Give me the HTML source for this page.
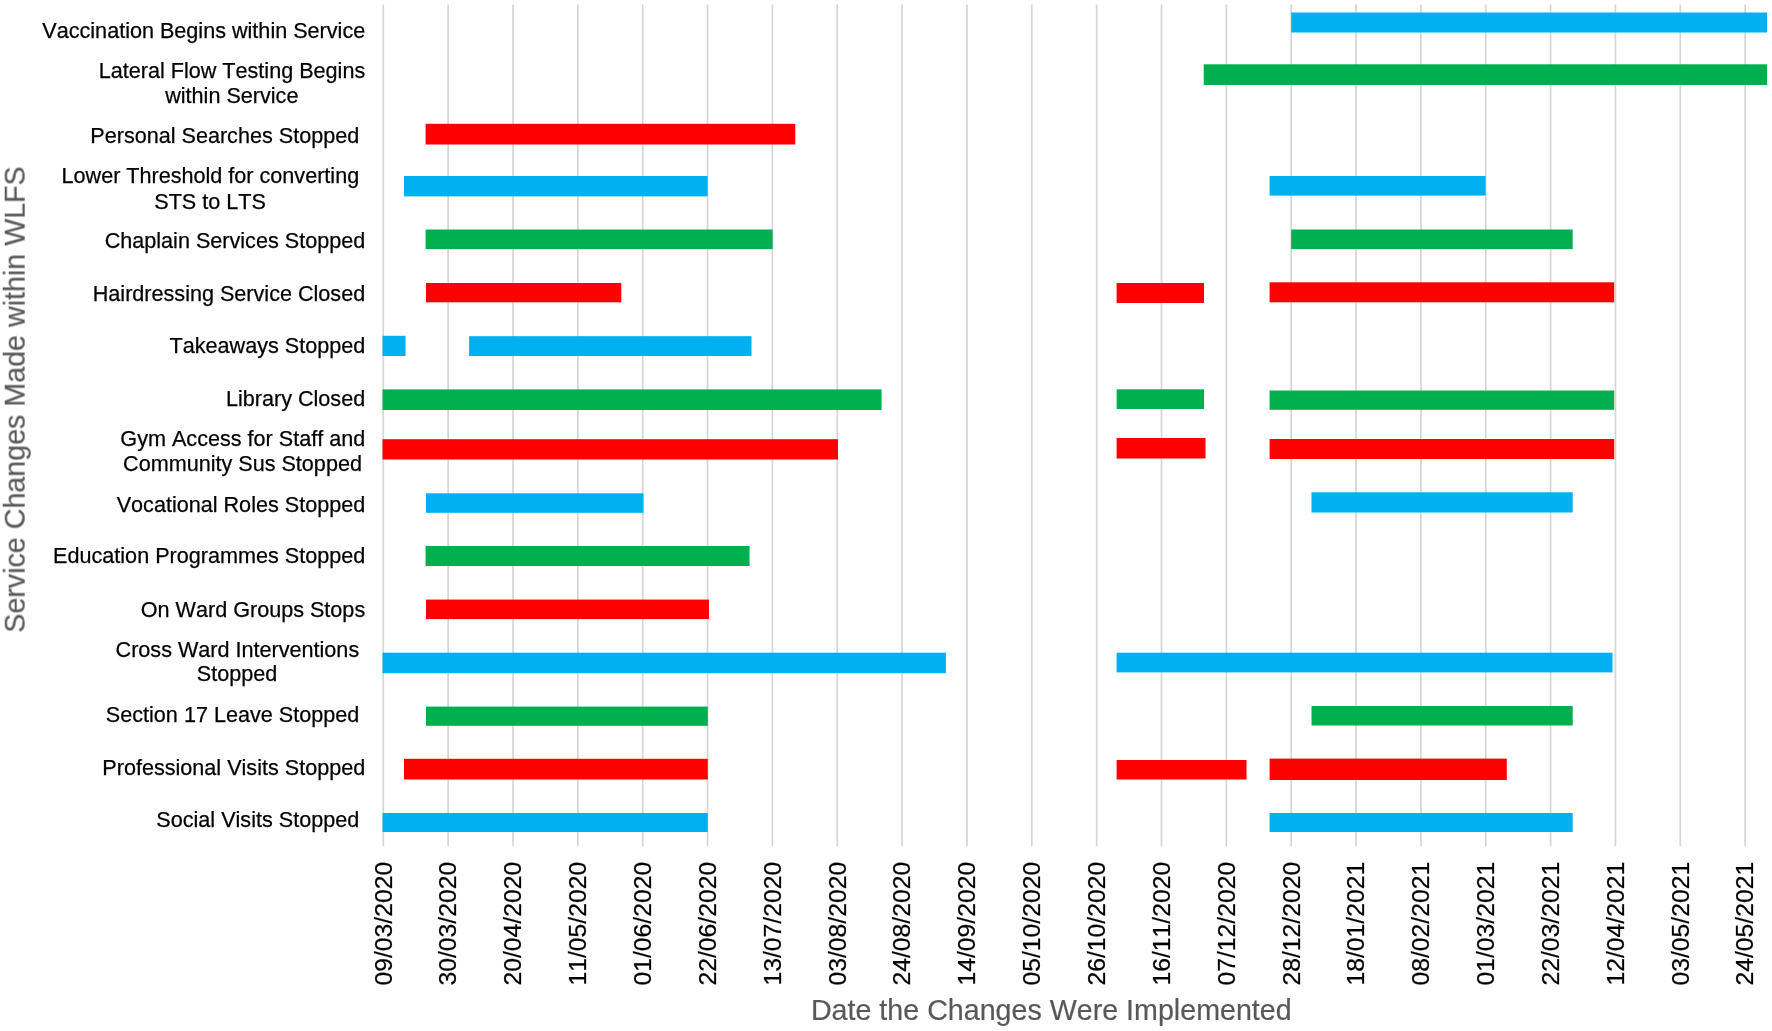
<!DOCTYPE html>
<html lang="en">
<head>
<meta charset="utf-8">
<title>Service Changes Made within WLFS</title>
<style>
html,body{margin:0;padding:0;background:#fff;}
body{width:1772px;height:1031px;overflow:hidden;}
svg{display:block;}
text{font-family:"Liberation Sans",Arial,sans-serif;font-kerning:none;}
.yl{font-size:21.6px;fill:#000;stroke:#000;stroke-width:0.25px;}
.xl{font-size:24.75px;fill:#000;stroke:#000;stroke-width:0.25px;}
.ti{font-size:28.65px;fill:#595959;stroke:#595959;stroke-width:0.2px;}
</style>
</head>
<body>
<svg width="1772" height="1031" viewBox="0 0 1772 1031">
<defs><filter id="soft" x="0" y="0" width="1772" height="1031" filterUnits="userSpaceOnUse"><feGaussianBlur stdDeviation="0.55"/></filter></defs>
<rect width="1772" height="1031" fill="#ffffff"/>
<g filter="url(#soft)">
<g stroke="#d5d5d5" stroke-width="1.7" fill="none">
<line x1="383.30" y1="4.6" x2="383.30" y2="846.3"/>
<line x1="448.15" y1="4.6" x2="448.15" y2="846.3"/>
<line x1="513.00" y1="4.6" x2="513.00" y2="846.3"/>
<line x1="577.85" y1="4.6" x2="577.85" y2="846.3"/>
<line x1="642.70" y1="4.6" x2="642.70" y2="846.3"/>
<line x1="707.55" y1="4.6" x2="707.55" y2="846.3"/>
<line x1="772.40" y1="4.6" x2="772.40" y2="846.3"/>
<line x1="837.25" y1="4.6" x2="837.25" y2="846.3"/>
<line x1="902.10" y1="4.6" x2="902.10" y2="846.3"/>
<line x1="966.95" y1="4.6" x2="966.95" y2="846.3"/>
<line x1="1031.80" y1="4.6" x2="1031.80" y2="846.3"/>
<line x1="1096.65" y1="4.6" x2="1096.65" y2="846.3"/>
<line x1="1161.50" y1="4.6" x2="1161.50" y2="846.3"/>
<line x1="1226.35" y1="4.6" x2="1226.35" y2="846.3"/>
<line x1="1291.20" y1="4.6" x2="1291.20" y2="846.3"/>
<line x1="1356.05" y1="4.6" x2="1356.05" y2="846.3"/>
<line x1="1420.90" y1="4.6" x2="1420.90" y2="846.3"/>
<line x1="1485.75" y1="4.6" x2="1485.75" y2="846.3"/>
<line x1="1550.60" y1="4.6" x2="1550.60" y2="846.3"/>
<line x1="1615.45" y1="4.6" x2="1615.45" y2="846.3"/>
<line x1="1680.30" y1="4.6" x2="1680.30" y2="846.3"/>
<line x1="1745.15" y1="4.6" x2="1745.15" y2="846.3"/>
</g>
<g>
<rect x="1291.2" y="12.5" width="475.9" height="20.0" fill="#00B0F0"/>
<rect x="1203.7" y="64.3" width="563.4" height="20.7" fill="#00B050"/>
<rect x="425.6" y="123.8" width="369.7" height="20.7" fill="#FF0000"/>
<rect x="404.0" y="176.0" width="303.6" height="20.4" fill="#00B0F0"/>
<rect x="1269.6" y="176.0" width="216.0" height="19.6" fill="#00B0F0"/>
<rect x="425.6" y="229.5" width="347.0" height="19.6" fill="#00B050"/>
<rect x="1291.2" y="229.5" width="281.5" height="19.6" fill="#00B050"/>
<rect x="426.0" y="283.0" width="195.3" height="19.3" fill="#FF0000"/>
<rect x="1116.6" y="283.0" width="87.4" height="20.0" fill="#FF0000"/>
<rect x="1269.6" y="282.3" width="344.6" height="20.0" fill="#FF0000"/>
<rect x="382.5" y="335.8" width="23.0" height="20.2" fill="#00B0F0"/>
<rect x="469.1" y="336.2" width="282.4" height="19.8" fill="#00B0F0"/>
<rect x="382.5" y="389.4" width="499.1" height="20.6" fill="#00B050"/>
<rect x="1116.6" y="389.3" width="87.4" height="19.7" fill="#00B050"/>
<rect x="1269.6" y="390.5" width="344.6" height="19.3" fill="#00B050"/>
<rect x="382.5" y="439.2" width="455.5" height="20.3" fill="#FF0000"/>
<rect x="1116.6" y="438.0" width="88.9" height="20.5" fill="#FF0000"/>
<rect x="1269.6" y="439.0" width="344.6" height="20.0" fill="#FF0000"/>
<rect x="426.0" y="493.3" width="217.5" height="19.5" fill="#00B0F0"/>
<rect x="1311.5" y="492.3" width="261.2" height="20.2" fill="#00B0F0"/>
<rect x="425.6" y="546.0" width="323.9" height="20.0" fill="#00B050"/>
<rect x="426.0" y="599.6" width="283.0" height="19.5" fill="#FF0000"/>
<rect x="382.5" y="652.7" width="563.4" height="20.5" fill="#00B0F0"/>
<rect x="1116.6" y="652.7" width="495.9" height="19.7" fill="#00B0F0"/>
<rect x="426.0" y="706.6" width="281.8" height="19.2" fill="#00B050"/>
<rect x="1311.5" y="706.0" width="261.2" height="19.5" fill="#00B050"/>
<rect x="404.0" y="758.8" width="303.8" height="20.7" fill="#FF0000"/>
<rect x="1116.6" y="760.0" width="129.9" height="19.5" fill="#FF0000"/>
<rect x="1269.6" y="758.6" width="237.2" height="21.4" fill="#FF0000"/>
<rect x="382.5" y="813.0" width="325.3" height="19.0" fill="#00B0F0"/>
<rect x="1269.6" y="813.0" width="303.1" height="19.0" fill="#00B0F0"/>
</g>
<g class="yl" text-anchor="end">
<text x="365.2" y="38.0">Vaccination Begins within Service</text>
<text x="359.2" y="142.9">Personal Searches Stopped</text>
<text x="365.2" y="247.6">Chaplain Services Stopped</text>
<text x="365.2" y="301.3">Hairdressing Service Closed</text>
<text x="365.2" y="353.3">Takeaways Stopped</text>
<text x="365.2" y="406.3">Library Closed</text>
<text x="365.2" y="511.8">Vocational Roles Stopped</text>
<text x="365.2" y="563.0">Education Programmes Stopped</text>
<text x="365.2" y="616.7">On Ward Groups Stops</text>
<text x="359.2" y="722.1">Section 17 Leave Stopped</text>
<text x="365.2" y="774.7">Professional Visits Stopped</text>
<text x="359.2" y="826.6">Social Visits Stopped</text>
<text x="365.2" y="77.6">Lateral Flow Testing Begins</text>
<text x="231.8" y="102.9" text-anchor="middle">within Service</text>
<text x="359.2" y="182.9">Lower Threshold for converting</text>
<text x="210.1" y="208.6" text-anchor="middle">STS to LTS</text>
<text x="365.2" y="445.9">Gym Access for Staff and</text>
<text x="242.5" y="471.2" text-anchor="middle">Community Sus Stopped</text>
<text x="359.2" y="657.4">Cross Ward Interventions</text>
<text x="237.1" y="681.2" text-anchor="middle">Stopped</text>
</g>
<g class="xl" text-anchor="end">
<text transform="translate(391.60,861.7) rotate(-90)">09/03/2020</text>
<text transform="translate(456.45,861.7) rotate(-90)">30/03/2020</text>
<text transform="translate(521.30,861.7) rotate(-90)">20/04/2020</text>
<text transform="translate(586.15,861.7) rotate(-90)">11/05/2020</text>
<text transform="translate(651.00,861.7) rotate(-90)">01/06/2020</text>
<text transform="translate(715.85,861.7) rotate(-90)">22/06/2020</text>
<text transform="translate(780.70,861.7) rotate(-90)">13/07/2020</text>
<text transform="translate(845.55,861.7) rotate(-90)">03/08/2020</text>
<text transform="translate(910.40,861.7) rotate(-90)">24/08/2020</text>
<text transform="translate(975.25,861.7) rotate(-90)">14/09/2020</text>
<text transform="translate(1040.10,861.7) rotate(-90)">05/10/2020</text>
<text transform="translate(1104.95,861.7) rotate(-90)">26/10/2020</text>
<text transform="translate(1169.80,861.7) rotate(-90)">16/11/2020</text>
<text transform="translate(1234.65,861.7) rotate(-90)">07/12/2020</text>
<text transform="translate(1299.50,861.7) rotate(-90)">28/12/2020</text>
<text transform="translate(1364.35,861.7) rotate(-90)">18/01/2021</text>
<text transform="translate(1429.20,861.7) rotate(-90)">08/02/2021</text>
<text transform="translate(1494.05,861.7) rotate(-90)">01/03/2021</text>
<text transform="translate(1558.90,861.7) rotate(-90)">22/03/2021</text>
<text transform="translate(1623.75,861.7) rotate(-90)">12/04/2021</text>
<text transform="translate(1688.60,861.7) rotate(-90)">03/05/2021</text>
<text transform="translate(1753.45,861.7) rotate(-90)">24/05/2021</text>
</g>
<text class="ti" text-anchor="middle" x="1051.3" y="1020.3">Date the Changes Were Implemented</text>
<text class="ti" text-anchor="middle" transform="translate(24.7,399.5) rotate(-90)">Service Changes Made within WLFS</text>
</g>
</svg>
</body>
</html>
